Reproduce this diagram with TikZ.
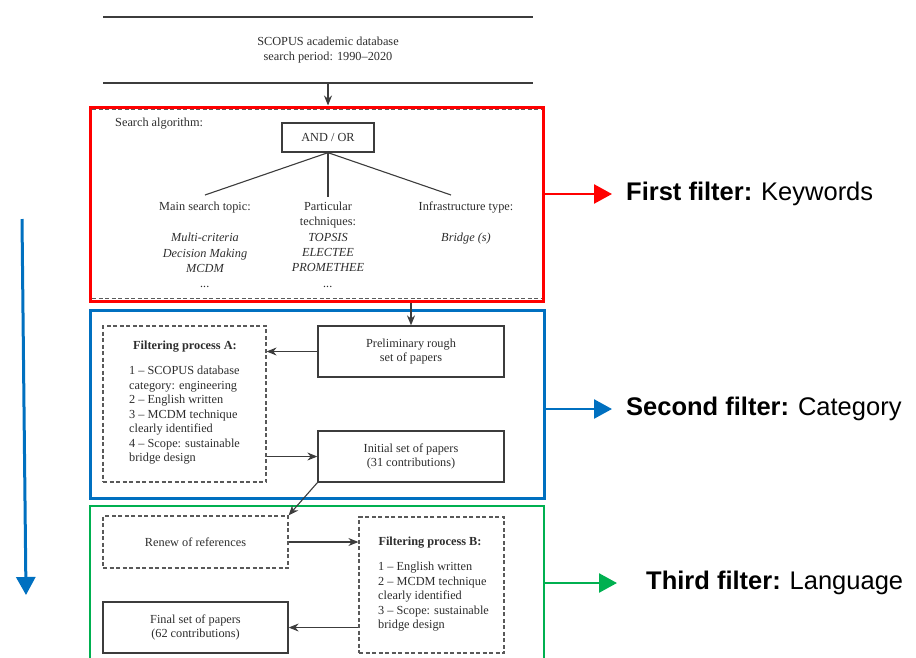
\documentclass[tikz,border=0pt]{standalone}
\usepackage{fontspec}
\setmainfont{Liberation Serif}
\newfontfamily\arialfont{Liberation Sans}
\usetikzlibrary{arrows.meta,calc}
\definecolor{txt}{RGB}{45,45,45}
\definecolor{frm}{RGB}{60,60,60}
\definecolor{fred}{RGB}{255,0,0}
\definecolor{fblue}{RGB}{0,112,192}
\definecolor{fgreen}{RGB}{0,176,80}
\begin{document}
\begin{tikzpicture}[x=1pt,y=-1pt,
 txtnode/.style={inner sep=0pt, text=txt, font=\fontsize{12.3}{14.5}\selectfont},
 boldtxt/.style={inner sep=0pt, text=txt, font=\fontsize{12.3}{14.5}\selectfont\bfseries},
 ittxt/.style={inner sep=0pt, text=txt, font=\fontsize{12.3}{15.3}\selectfont\itshape, align=center, anchor=north},
 solidbox/.style={draw=frm, line width=1.3pt, inner sep=0pt, text=txt, align=center, font=\fontsize{12.3}{14.5}\selectfont},
 dashbox/.style={draw=frm!85, line width=1.2pt, dash pattern=on 4pt off 2.5pt, inner sep=0pt},
 conn/.style={draw=frm, line width=1.1pt, -{Stealth[length=10pt,width=8pt]}},
 plain/.style={draw=frm, line width=1.1pt},
 filterframe/.style={line width=3pt, inner sep=0pt},
 lab/.style={font=\arialfont\fontsize{25.5}{30}\selectfont, anchor=west, inner sep=0pt, text=black},
 bigarrow/.style={line width=2.5pt, -{Triangle[length=18pt,width=19pt]}}
]
\useasboundingbox (0,0) rectangle (916,657);

% top block
\draw[plain] (103,17) -- (533,17);
\draw[plain] (103,83) -- (533,83);
\node[txtnode, align=center] (scopus) at (328,50) {SCOPUS academic database\\search period: 1990--2020};
\coordinate (scopusbot) at (328,83);

% first filter
\draw[dashbox] (92,109.5) -- (541,109.5);
\draw[dashbox] (92,298.5) -- (541,298.5);
\node[filterframe, draw=fred, minimum width=453pt, minimum height=194pt] (redbox) at (316.5,204) {};
\node[txtnode, anchor=west] (search) at (115,124) {Search algorithm:};
\node[solidbox, minimum width=92pt, minimum height=29pt] (andor) at (328,137.5) {AND / OR};
\coordinate (e1) at (205,195);
\coordinate (e2) at (328,197);
\coordinate (e3) at (451,195);
\draw[plain] (andor.south) -- (e1);
\draw[plain] (andor.south) -- (e2);
\draw[plain] (andor.south) -- (e3);
\node[txtnode, anchor=north] (topic) at (205,202) {Main search topic:};
\node[txtnode, align=center, anchor=north] (tech) at (328,202) {Particular\\techniques:};
\node[txtnode, anchor=north] (infra) at (466,202) {Infrastructure type:};
\node[ittxt] (mc) at (205,233) {Multi-criteria\\Decision Making\\MCDM\\...};
\node[ittxt] (tl) at (328,233) {TOPSIS\\ELECTEE\\PROMETHEE\\...};
\node[ittxt] (br) at (466,233) {Bridge (s)};

% second filter
\node[filterframe, draw=fblue, minimum width=454pt, minimum height=188pt] (bluebox) at (317,404) {};
\node[dashbox, minimum width=163pt, minimum height=156pt] (boxA) at (184.5,404) {};
\node[boldtxt] (titleA) at (185,347) {Filtering process A:};
\node[txtnode, align=left, anchor=north west] (listA) at (129,366) {1 -- SCOPUS database\\category: engineering\\2 -- English written\\3 -- MCDM technique\\clearly identified\\4 -- Scope: sustainable\\bridge design};
\node[solidbox, minimum width=186pt, minimum height=51pt] (prelim) at (411,351.5) {Preliminary rough\\set of papers};
\node[solidbox, minimum width=186pt, minimum height=51pt] (initial) at (411,456.5) {Initial set of papers\\(31 contributions)};

% third filter
\node[filterframe, draw=fgreen, line width=2.6pt, minimum width=454pt, minimum height=200pt] (greenbox) at (317,606) {};
\node[dashbox, minimum width=185pt, minimum height=52pt, text=txt, font=\fontsize{12.3}{14.5}\selectfont] (renew) at (195.5,542) {Renew of references};
\node[dashbox, minimum width=145pt, minimum height=136pt] (boxB) at (431.5,585) {};
\node[boldtxt] (titleB) at (430,543) {Filtering process B:};
\node[txtnode, align=left, anchor=north west] (listB) at (378,562) {1 -- English written\\2 -- MCDM technique\\clearly identified\\3 -- Scope: sustainable\\bridge design};
\node[solidbox, minimum width=185pt, minimum height=51pt] (final) at (195.5,627.5) {Final set of papers\\(62 contributions)};

% connectors
\draw[conn] (scopusbot) -- (redbox.north -| scopusbot);
\draw[conn] (prelim.north |- redbox.south) -- (prelim.north);
\draw[conn] (prelim.west) -- (boxA.east |- prelim.west);
\draw[conn] (boxA.east |- initial.west) -- (initial.west);
\draw[conn] (initial.south west) -- (renew.north east);
\draw[conn] (renew.east) -- (boxB.west |- renew.east);
\draw[conn] (boxB.west |- final.east) -- (final.east);

% right labels
\node[lab] (l1) at (626,194) {\textbf{First filter:}\hspace{0.35em}Keywords};
\node[lab] (l2) at (626,409) {\textbf{Second filter:}\hspace{0.35em}Category};
\node[lab] (l3) at (646,583) {\textbf{Third filter:}\hspace{0.35em}Language};
\draw[bigarrow, fred] (redbox.east |- l1.west) -- ($(l1.west)+(-14,0)$);
\draw[bigarrow, fblue] (bluebox.east |- l2.west) -- ($(l2.west)+(-14,0)$);
\draw[bigarrow, fgreen] (greenbox.east |- l3.west) -- ($(l3.west)+(-29,0)$);

% left progress arrow
\coordinate (vtop) at (22,219);
\coordinate (vbot) at (26,595);
\draw[bigarrow, fblue, line width=3pt] (vtop) -- (vbot);
\end{tikzpicture}
\end{document}
